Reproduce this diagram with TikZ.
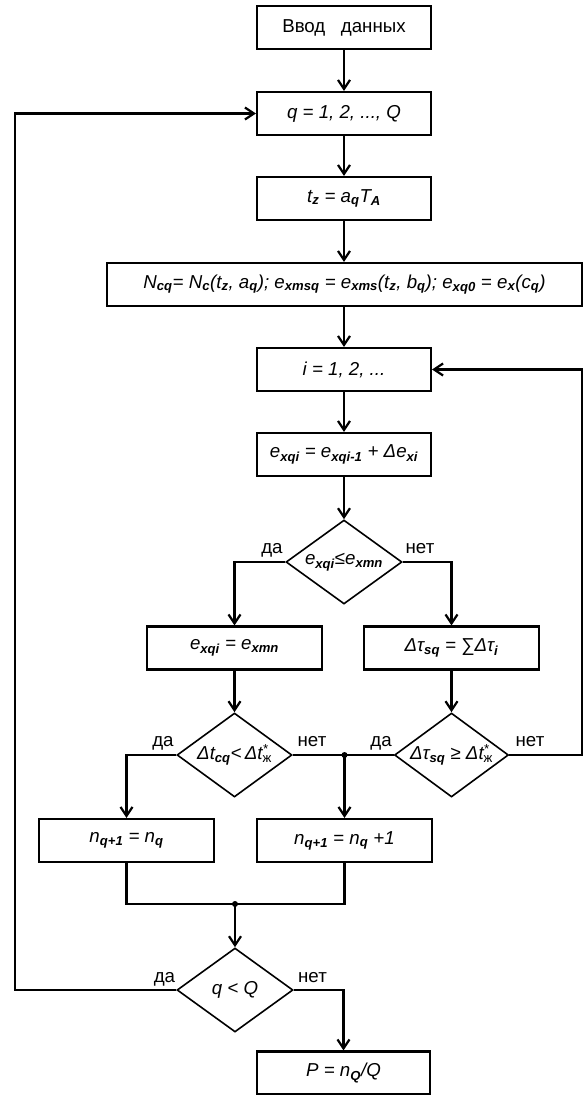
\documentclass[tikz,border=0pt]{standalone}
\usepackage{fontspec}
\setmainfont{Liberation Sans}
\usetikzlibrary{shapes.geometric,arrows.meta}
\newcommand\sbb[1]{\textsubscript{\bfseries\itshape #1}}
\newcommand\zhstar{\rlap{\textsuperscript{*}}\textsubscript{\upshape ж}}
\begin{document}
\begin{tikzpicture}[x=1pt,y=-1pt,
  font=\fontsize{18.7}{22}\selectfont,
  box/.style={draw,line width=2.2pt,inner sep=0pt,minimum height=43pt,minimum width=174pt},
  dia/.style={draw,diamond,line width=1.6pt,inner sep=0pt,minimum width=116pt,minimum height=84pt,aspect=1.38},
  con/.style={line width=2.2pt},
  arr/.style={con,-{Straight Barb[length=9pt,width=12pt,line width=2.2pt]}},
  lbl/.style={inner sep=0pt,anchor=base},
  jdot/.style={circle,fill,inner sep=0pt,minimum size=6pt}]
\useasboundingbox (0,0) rectangle (584,1095);

\node[box] (in) at (344,27.5) {Ввод\ \ \ данных};
\node[box] (q) at (344,113.5) {\itshape q = 1, 2, ..., Q};
\node[box] (tz) at (344,198.5) {\itshape t\sbb{z} = a\sbb{q}T\sbb{A}};
\node[box,minimum width=475pt] (N) at (344.5,284.5) {\itshape N\sbb{cq}= N\sbb{c}(t\sbb{z}, a\sbb{q}); e\sbb{xmsq} = e\sbb{xms}(t\sbb{z}, b\sbb{q}); e\sbb{xq0} = e\sbb{x}(c\sbb{q})};
\node[box] (i) at (344,369.5) {\itshape i = 1, 2, ...};
\node[box] (e) at (344,454.5) {\itshape e\sbb{xqi} = e\sbb{xqi-1} + Δe\sbb{xi}};
\node[dia] (d1) at (344,562) {\itshape e\sbb{xqi}≤e\sbb{xmn}};
\node[box,minimum width=175pt] (em) at (234.5,648) {\itshape e\sbb{xqi} = e\sbb{xmn}};
\node[box,minimum width=175pt] (tau) at (451.5,648) {\itshape Δτ\sbb{sq} = {\upshape ∑}Δτ\sbb{i}};
\node[dia,minimum width=115pt] (d2) at (234.5,755) {\itshape Δt\sbb{cq}<\,Δt\zhstar};
\node[dia,minimum width=114pt] (d3) at (451.5,755) {\itshape Δτ\sbb{sq} ≥ Δt\zhstar};
\node[box,minimum width=175pt] (n1) at (126.5,840.5) {\itshape n\sbb{q+1} = n\sbb{q}};
\node[box,minimum width=175pt] (n2) at (344.5,840.5) {\itshape n\sbb{q+1} = n\sbb{q} +1};
\node[dia] (d4) at (235,990) {\itshape q < Q};
\node[box,minimum width=173pt] (P) at (343.5,1073) {\itshape P = n\sbb{Q}/Q};

\draw[arr] (in.south) -- (q.north);
\draw[arr] (q.south) -- (tz.north);
\draw[arr] (tz.south) -- (tz.south |- N.north);
\draw[arr] (i.north |- N.south) -- (i.north);
\draw[arr] (i.south) -- (e.north);
\draw[arr] (e.south) -- (d1.north);
\draw[arr] (d1.west) -| (em.north);
\draw[arr] (d1.east) -| (tau.north);
\draw[arr] (em.south) -- (d2.north);
\draw[arr] (tau.south) -- (d3.north);
\draw[arr] (d2.west) -| (n1.north);
\draw[con] (d2.east) -- (d3.west);
\coordinate (j1) at (n2.north |- d2.east);
\node[jdot] at (j1) {};
\draw[arr] (j1) -- (n2.north);
\coordinate (r1) at (582,755);
\draw[arr] (d3.east) -- (r1) |- (i.east);
\coordinate (m) at (235,904);
\draw[con] (n1.south) |- (m) -| (n2.south);
\node[jdot] at (m) {};
\draw[arr] (m) -- (d4.north);
\coordinate (l1) at (15,990);
\draw[arr] (d4.west) -- (l1) |- (q.west);
\draw[arr] (d4.east) -| (P.north);

\node[lbl] (y1) at (272,553) {да};
\node[lbl] (n1l) at (420,553) {нет};
\node[lbl] (y2) at (163,746) {да};
\node[lbl] (n2l) at (312,746) {нет};
\node[lbl] (y3) at (381,746) {да};
\node[lbl] (n3l) at (530,746) {нет};
\node[lbl] (y4) at (164.5,982) {да};
\node[lbl] (n4l) at (312.5,982) {нет};
\end{tikzpicture}
\end{document}
